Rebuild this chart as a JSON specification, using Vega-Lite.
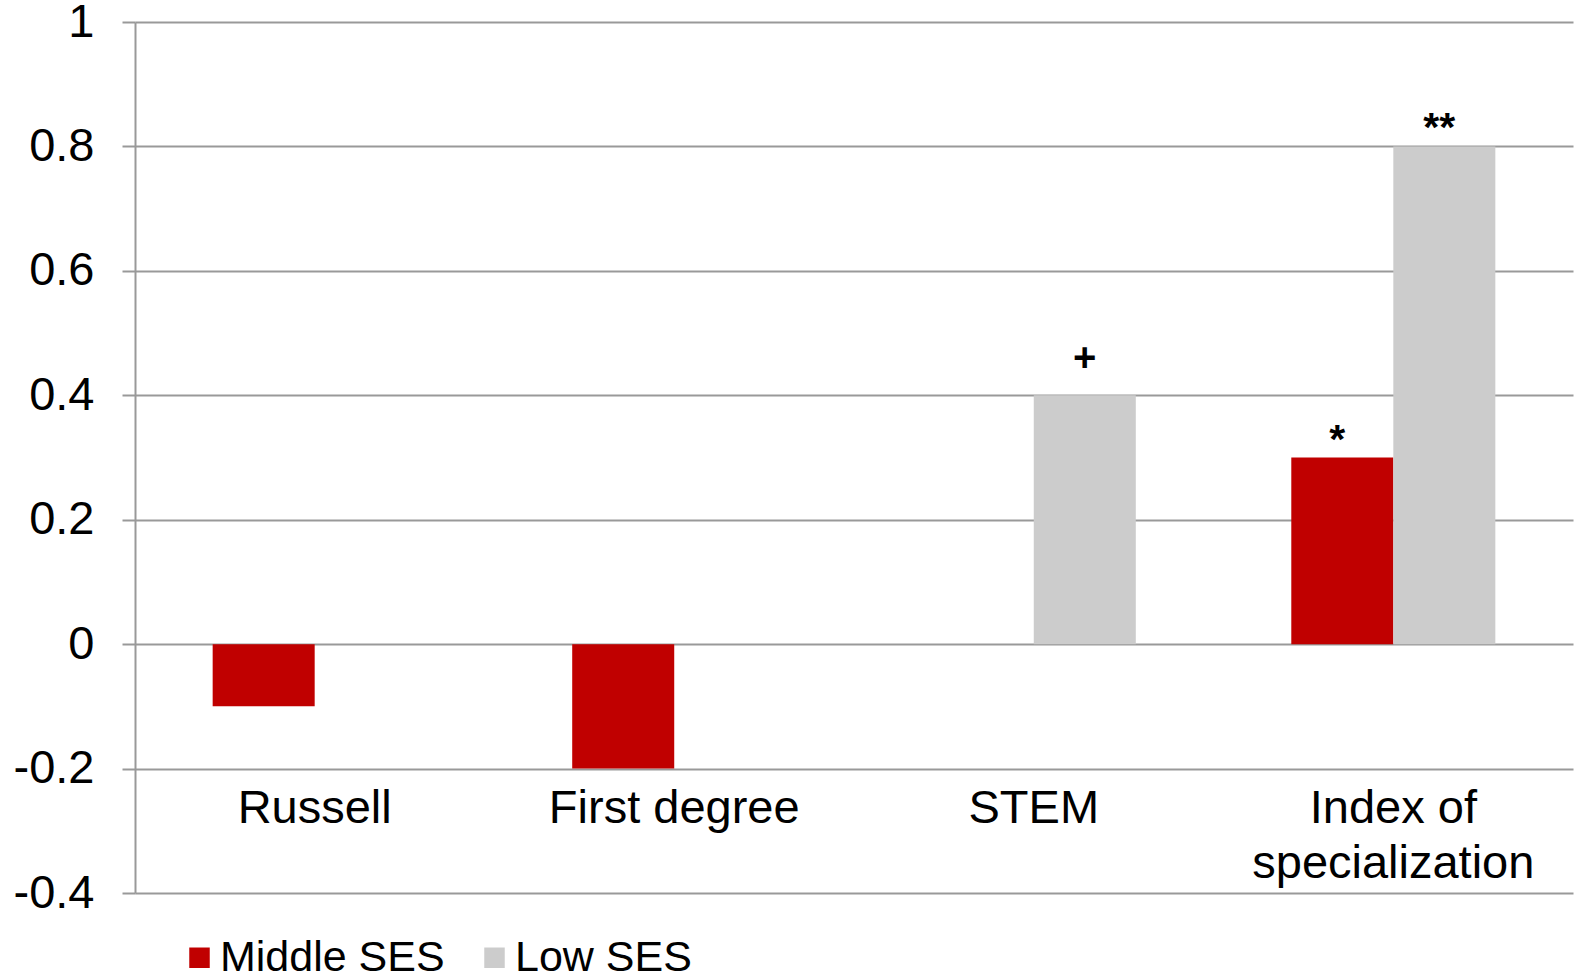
{
  "$schema": "https://vega.github.io/schema/vega-lite/v6.json",
  "autosize": {"type": "none"},
  "padding": {"left": 135, "top": 22, "right": 6, "bottom": 83},
  "width": 1438,
  "height": 871,
  "background": "white",
  "config": {
    "font": "Liberation Sans",
    "view": {"stroke": null}
  },
  "data": {
    "values": [
      {"category": "Russell", "group": "Middle SES", "value": -0.1, "sig": ""},
      {"category": "Russell", "group": "Low SES", "value": 0, "sig": ""},
      {"category": "First degree", "group": "Middle SES", "value": -0.2, "sig": ""},
      {"category": "First degree", "group": "Low SES", "value": 0, "sig": ""},
      {"category": "STEM", "group": "Middle SES", "value": 0, "sig": ""},
      {"category": "STEM", "group": "Low SES", "value": 0.4, "sig": "+"},
      {"category": "Index of specialization", "group": "Middle SES", "value": 0.3, "sig": "*"},
      {"category": "Index of specialization", "group": "Low SES", "value": 0.8, "sig": "**"}
    ]
  },
  "encoding": {
    "x": {
      "field": "category",
      "type": "nominal",
      "sort": ["Russell", "First degree", "STEM", "Index of specialization"],
      "scale": {"paddingInner": 0.4325, "paddingOuter": 0.216},
      "axis": {
        "title": null,
        "orient": "bottom",
        "offset": -108,
        "domain": false,
        "ticks": false,
        "grid": false,
        "labelAngle": 0,
        "labelFontSize": 47,
        "labelColor": "black",
        "labelBaseline": "top",
        "labelPadding": 0,
        "labelLineHeight": 55,
        "labelLimit": 0,
        "labelExpr": "datum.value == 'Index of specialization' ? ['Index of', 'specialization'] : datum.label"
      }
    },
    "xOffset": {"field": "group", "type": "nominal", "sort": ["Middle SES", "Low SES"]},
    "y": {
      "field": "value",
      "type": "quantitative",
      "scale": {"domain": [-0.4, 1], "nice": false, "zero": false},
      "axis": {
        "title": null,
        "values": [-0.4, -0.2, 0, 0.2, 0.4, 0.6, 0.8, 1],
        "labelExpr": "'' + datum.value",
        "labelFontSize": 47,
        "labelColor": "black",
        "labelPadding": 28,
        "tickSize": 13,
        "tickColor": "#999999",
        "tickWidth": 2,
        "domainColor": "#999999",
        "domainWidth": 2,
        "gridColor": "#999999",
        "gridWidth": 2
      }
    }
  },
  "layer": [
    {
      "mark": {"type": "bar"},
      "encoding": {
        "color": {
          "field": "group",
          "type": "nominal",
          "sort": ["Middle SES", "Low SES"],
          "scale": {"domain": ["Middle SES", "Low SES"], "range": ["#C00000", "#CCCCCC"]},
          "legend": {
            "title": null,
            "orient": "none",
            "direction": "horizontal",
            "legendX": 43,
            "legendY": 914,
            "symbolType": "square",
            "symbolSize": 420,
            "symbolStrokeWidth": 0,
            "labelFontSize": 43,
            "labelColor": "black",
            "labelOffset": -1,
            "columnPadding": 28,
            "labelLimit": 0
          }
        }
      }
    },
    {
      "transform": [{"filter": "datum.sig == '+'"}],
      "mark": {"type": "text", "fontSize": 40, "fontWeight": "bold", "baseline": "alphabetic", "dy": -24, "color": "black"},
      "encoding": {"text": {"field": "sig"}}
    },
    {
      "transform": [{"filter": "datum.sig == '*' || datum.sig == '**'"}],
      "mark": {"type": "text", "fontSize": 41, "fontWeight": "bold", "baseline": "alphabetic", "dy": -5, "dx": -5, "color": "black"},
      "encoding": {"text": {"field": "sig"}}
    }
  ]
}
